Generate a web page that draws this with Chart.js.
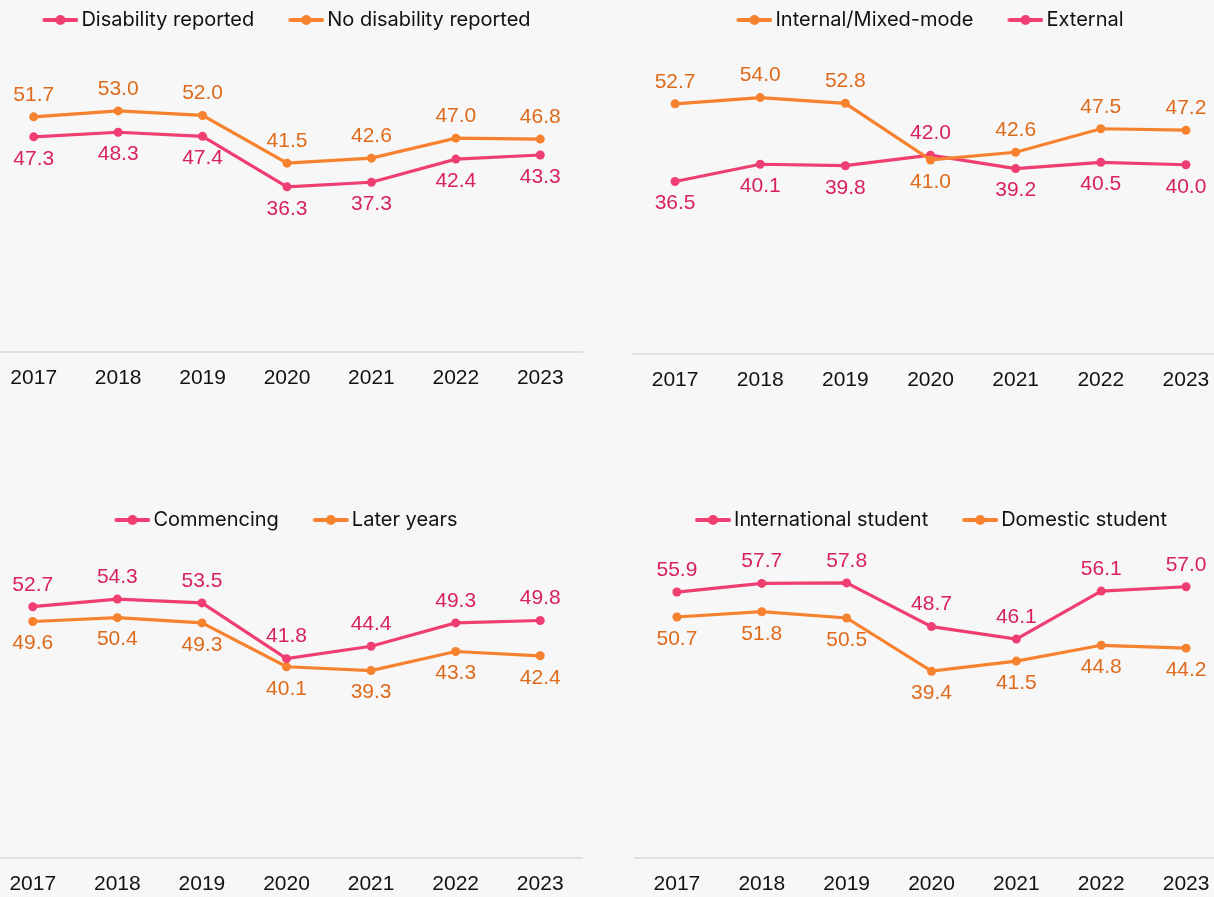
<!DOCTYPE html>
<html>
<head>
<meta charset="utf-8">
<script src="https://cdn.jsdelivr.net/npm/chart.js@4.4.0/dist/chart.umd.min.js"></script>
<style>
  html, body { margin:0; padding:0; background:#f7f7f7; overflow:hidden; width:1214px; height:897px; }
  .panel { position:absolute; }
</style>
</head>
<body>
<div class="panel" style="left:-13.5px;top:0px;width:600px;height:405px"><canvas id="c1"></canvas></div>
<div class="panel" style="left:628px;top:0px;width:605px;height:407px"><canvas id="c2"></canvas></div>
<div class="panel" style="left:-14px;top:500px;width:601px;height:411px"><canvas id="c3"></canvas></div>
<div class="panel" style="left:630px;top:500px;width:603px;height:411px"><canvas id="c4"></canvas></div>
<script>
const years = ['2017','2018','2019','2020','2021','2022','2023'];

const disability   = [47.3, 48.3, 47.4, 36.3, 37.3, 42.4, 43.3];
const noDisability = [51.7, 53.0, 52.0, 41.5, 42.6, 47.0, 46.8];

const internalMixed = [52.7, 54.0, 52.8, 41.0, 42.6, 47.5, 47.2];
const external      = [36.5, 40.1, 39.8, 42.0, 39.2, 40.5, 40.0];

const commencing = [52.7, 54.3, 53.5, 41.8, 44.4, 49.3, 49.8];
const laterYears = [49.6, 50.4, 49.3, 40.1, 39.3, 43.3, 42.4];

const international = [55.9, 57.7, 57.8, 48.7, 46.1, 56.1, 57.0];
const domestic      = [50.7, 51.8, 50.5, 39.4, 41.5, 44.8, 44.2];

const PINK = '#ee3e72', ORANGE = '#f6822f';
const PINK_TXT = '#d8225d', ORANGE_TXT = '#de6a1c';

// legend glyph: short line with a dot in the middle
function glyph(color){
  const c = document.createElement('canvas');
  c.width = 42; c.height = 12;
  const g = c.getContext('2d');
  g.strokeStyle = color; g.lineWidth = 4; g.lineCap = 'round';
  g.beginPath(); g.moveTo(8, 6); g.lineTo(40, 6); g.stroke();
  g.fillStyle = color;
  g.beginPath(); g.arc(24, 6, 5, 0, Math.PI*2); g.fill();
  return c;
}

// values written above the higher series and below the lower one
const valueLabels = {
  id: 'valueLabels',
  afterDatasetsDraw(chart){
    const ctx = chart.ctx;
    const sets = chart.data.datasets;
    ctx.save();
    ctx.font = '21px "Liberation Sans", Arial, sans-serif';
    ctx.textAlign = 'center';
    ctx.textBaseline = 'middle';
    sets.forEach((ds, i) => {
      const other = sets[1 - i];
      chart.getDatasetMeta(i).data.forEach((pt, k) => {
        const up = ds.data[k] >= other.data[k];
        ctx.fillStyle = ds.labelColor;
        ctx.fillText(ds.data[k].toFixed(1), pt.x, pt.y + (up ? -22 : 22));
      });
    });
    ctx.restore();
  }
};

function ds(label, data, color, txt){
  return { label, data, borderColor: color, backgroundColor: color, labelColor: txt,
    borderWidth: 3.2, pointRadius: 4.5, pointHoverRadius: 4.5, pointBorderWidth: 0,
    pointBackgroundColor: color, tension: 0, glyph: glyph(color) };
}

function makeChart(id, a, b, yMin, yMax){
  return new Chart(document.getElementById(id), {
    type: 'line',
    data: { labels: years, datasets: [a, b] },
    plugins: [valueLabels],
    options: {
      responsive: true, maintainAspectRatio: false, animation: false,
      layout: { padding: { top: -25, left: 0, right: 0, bottom: 0 } },
      plugins: {
        tooltip: { enabled: false },
        legend: {
          position: 'top', align: 'center',
          labels: {
            usePointStyle: true, pointStyleWidth: 28, padding: 35,
            color: '#111', font: { family: 'Inter', size: 20 },
            generateLabels(chart){
              return chart.data.datasets.map((d, i) => ({
                text: d.label, pointStyle: d.glyph, fillStyle: d.borderColor,
                strokeStyle: d.borderColor, lineWidth: 0, hidden: false, datasetIndex: i, fontColor: '#111'
              }));
            }
          }
        }
      },
      scales: {
        x: {
          offset: true,
          grid: { display: false, drawTicks: false },
          border: { display: true, color: '#e0e0e0', width: 2 },
          ticks: { color: '#111', padding: 14, font: { family: '"Liberation Sans", Arial', size: 21 } }
        },
        y: { display: false, min: yMin, max: yMax }
      }
    }
  });
}

makeChart('c1', ds('Disability reported', disability, PINK, PINK_TXT),
               ds('No disability reported', noDisability, ORANGE, ORANGE_TXT), 0, 68.6);
makeChart('c2', ds('Internal/Mixed-mode', internalMixed, ORANGE, ORANGE_TXT),
               ds('External', external, PINK, PINK_TXT), 0.6, 66.0);
makeChart('c3', ds('Commencing', commencing, PINK, PINK_TXT),
               ds('Later years', laterYears, ORANGE, ORANGE_TXT), 0, 66.7);
makeChart('c4', ds('International student', international, PINK, PINK_TXT),
               ds('Domestic student', domestic, ORANGE, ORANGE_TXT), 0.5, 66.75);
</script>
</body>
</html>
